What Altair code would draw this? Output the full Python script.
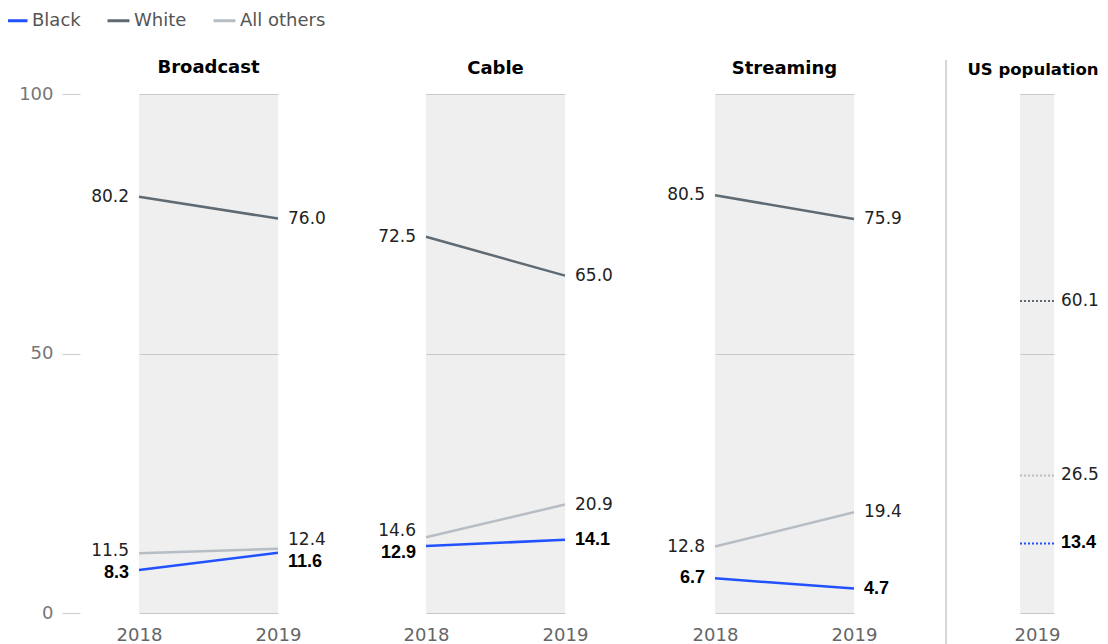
import altair as alt
import pandas as pd

# ---- data ----
groups = ["Black", "White", "All others"]
years = ["2018", "2019"]
platforms = ["Broadcast", "Cable", "Streaming"]
broadcast_2018 = [8.3, 80.2, 11.5]
broadcast_2019 = [11.6, 76.0, 12.4]
cable_2018 = [12.9, 72.5, 14.6]
cable_2019 = [14.1, 65.0, 20.9]
streaming_2018 = [6.7, 80.5, 12.8]
streaming_2019 = [4.7, 75.9, 19.4]
us_population_label = "US population"
us_population_2019 = [13.4, 60.1, 26.5]
y_ticks = [0, 50, 100]

colors = ["#2251ff", "#5f6a73", "#b6bdc4"]
FONT = "DejaVu Sans"
BOLD_FONT = "Liberation Sans"
GAP = 4.2  # minimum label separation in data units


def repel(vals):
    order = sorted(range(len(vals)), key=lambda i: vals[i])
    ys = {i: vals[i] for i in order}
    for _ in range(10):
        for a, b in zip(order, order[1:]):
            if ys[b] - ys[a] < GAP:
                mid = (ys[a] + ys[b]) / 2
                ys[a] = mid - GAP / 2
                ys[b] = mid + GAP / 2
    return [ys[i] for i in range(len(vals))]


def frame(per_year):
    rows = []
    for yr, vals in per_year.items():
        ly = repel(vals)
        for g, v, l in zip(groups, vals, ly):
            rows.append({"year": yr, "group": g, "value": v, "label_y": l})
    return pd.DataFrame(rows)


series = {
    "Broadcast": {"2018": broadcast_2018, "2019": broadcast_2019},
    "Cable": {"2018": cable_2018, "2019": cable_2019},
    "Streaming": {"2018": streaming_2018, "2019": streaming_2019},
}

H = 519
W = 139
W4 = 34
GAPS = [148, 150, 166]

legend = alt.Legend(
    orient="none", legendX=-135, legendY=-86, direction="horizontal", title=None,
    symbolType="stroke", symbolSize=484, symbolStrokeWidth=3,
    labelFont=FONT, labelFontSize=18, labelColor="#555", labelOffset=3,
    columnPadding=20, padding=0,
)
color = alt.Color("group:N", scale=alt.Scale(domain=groups, range=colors), legend=legend)

xaxis = alt.Axis(title=None, labelAngle=0, domain=False, ticks=False, grid=False,
                 labelPadding=13, labelFontSize=18, labelColor="#666", labelFont=FONT)


def yaxis(first):
    if first:
        return alt.Axis(title=None, values=y_ticks, domain=False, grid=True, gridColor="#c8c8c8",
                        offset=59, tickSize=18, tickColor="#cccccc", labelPadding=9,
                        labelFontSize=18, labelColor="#777", labelFont=FONT)
    return alt.Axis(title=None, values=y_ticks, domain=False, grid=True, gridColor="#c8c8c8",
                    labels=False, ticks=False)


def title(t, offset=16, size=18, dx=0):
    return alt.TitleParams(text=t, fontSize=size, fontWeight="bold", font=FONT, dx=dx,
                           anchor="middle", offset=offset, color="#000")


def yscale():
    return alt.Scale(domain=[0, 100], nice=False)


def text_layers(base, x, yax, yr, align, dx):
    out = []
    for bold in (False, True):
        f = (alt.datum.group == "Black") if bold else (alt.datum.group != "Black")
        out.append(
            base.transform_filter(alt.datum.year == yr).transform_filter(f)
            .mark_text(align=align, baseline="middle", dx=dx,
                       fontSize=18 if bold else 17, font=BOLD_FONT if bold else FONT,
                       fontWeight="bold" if bold else "normal",
                       color="#000" if bold else "#222")
            .encode(x=x, y=alt.Y("label_y:Q", scale=yscale(), axis=yax),
                    text=alt.Text("value:Q", format=".1f"))
        )
    return out


def panel(name, first):
    df = frame(series[name])
    base = alt.Chart(df)
    yax = yaxis(first)
    x = alt.X("year:O", scale=alt.Scale(type="point", padding=0), axis=xaxis)
    y = alt.Y("value:Q", scale=yscale(), axis=yax)
    lines = base.mark_line(strokeWidth=2.5).encode(x=x, y=y, color=color)
    layers = [lines] + text_layers(base, x, yax, "2018", "right", -10) + text_layers(base, x, yax, "2019", "left", 10)
    return alt.layer(*layers).properties(width=W, height=H, title=title(name, offset=8 if first else 16))


def us_panel():
    df = frame({"2019": us_population_2019})
    base = alt.Chart(df)
    yax = yaxis(False)
    x = alt.X("year:O", scale=alt.Scale(type="point", padding=0), axis=xaxis)
    y = alt.Y("value:Q", scale=yscale(), axis=yax)
    axis_anchor = base.mark_point(opacity=0).encode(x=x, y=y)
    rules = base.mark_rule(strokeWidth=2, strokeDash=[2, 2]).encode(y=y, color=color)
    layers = [axis_anchor, rules] + text_layers(base, x, yax, "2019", "left", 24)
    return alt.layer(*layers).properties(width=W4, height=H,
                                         title=title(us_population_label, size=16.5, dx=-4))


def spacer(w, separator=False):
    base = alt.Chart(pd.DataFrame({"k": [0]}))
    if separator:
        m = base.mark_rule(color="#c8c8c8", strokeWidth=1.5).encode(
            x=alt.value(w - 74), y=alt.value(-34), y2=alt.value(H + 60))
    else:
        m = base.mark_point(opacity=0)
    return m.properties(width=w, height=H, view=alt.ViewBackground(fillOpacity=0, strokeOpacity=0))


items = []
for i, p in enumerate(platforms):
    items.append(panel(p, i == 0))
    items.append(spacer(GAPS[i], separator=(i == 2)))
items.append(us_panel())

chart = alt.hconcat(*items, spacing=0, bounds="flush").properties(
    padding={"left": -4, "top": 0, "right": 0, "bottom": 0}
).configure_view(fill="#efefef", stroke=None)

chart.save("out.html", embed_options={"renderer": "svg", "actions": False})
